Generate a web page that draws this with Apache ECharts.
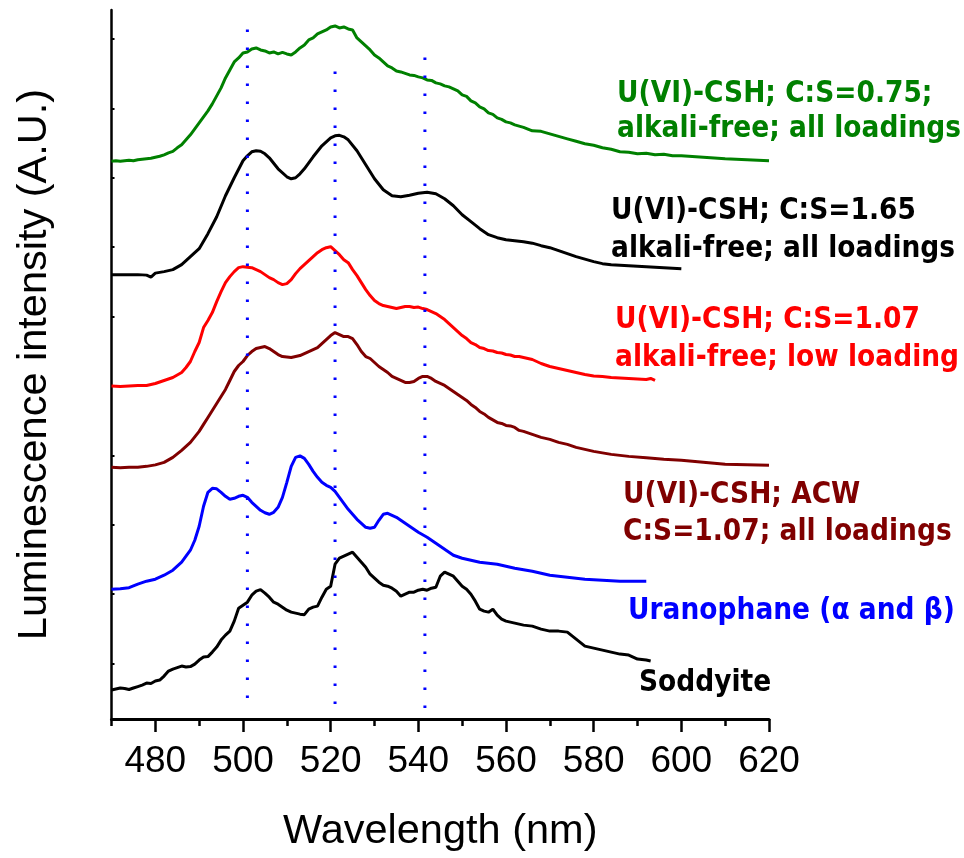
<!DOCTYPE html>
<html>
<head>
<meta charset="utf-8">
<title>U(VI) luminescence spectra</title>
<script src="https://cdn.jsdelivr.net/npm/echarts@6/dist/echarts.min.js"></script>
<style>
  html, body { margin: 0; padding: 0; background: #fff; }
  #chart { width: 964px; height: 858px; }
</style>
</head>
<body>
<div id="chart"></div>
<script>
// Emission spectra, stacked with vertical offsets (arbitrary units), [wavelength nm, intensity]
const cshCS075 = [
  [470,503.5],[471,504],[472,503.5],[473,504],[474,504.5],[475,504],[476,505],[477,505.5],[478,506],[479,506.5],
  [480,507.5],[481,508.5],[482,510],[483,512],[484,513.5],[485,517],[486,520],[487,525],[488,530],[489,536],
  [490,542],[491,548],[492,554],[493,561],[494,569],[495,577],[496,587],[497,595],[498,603],[499,607],
  [500,612],[501,613],[502,616],[503,617],[504,615],[505,614],[506,612],[507,613],[508,611],[509,612.5],
  [510,611],[511,610],[512,613],[513,617],[514,620],[515,625],[516,627],[517,631],[518,633],[519,635],
  [520,638],[521,639],[522,637],[523,638],[524,636],[525,635],[526,627],[527,623],[528,619],[529,615],
  [530,610],[531,607],[532,603],[533,599],[534,597],[535,594],[536,593],[537,591.5],[538,590],[539,589.5],
  [540,588],[541,587],[542,585],[543,584.5],[544,582],[545,581],[546,579],[547,578],[548,576],[549,574],
  [550,570],[551,568.5],[552,564],[553,562],[554,558],[555,556],[556,552],[557,550.5],[558,547],[559,545.5],
  [560,543],[561,542],[562,540],[564,537.5],[566,534],[568,533.5],[570,531],[572,528.5],[574,526],[576,523.5],
  [578,521],[580,519.5],[582,517],[584,515.5],[586,513],[588,512.5],[590,511],[592,511.5],[594,510],[596,510.5],
  [598,509],[600,509],[605,507.5],[610,506],[615,505],[620,504]
];

const cshCS165 = [
  [470,390],[472,390],[474,390],[476,390],[478,389.5],[479,387.5],[480,391.5],[482,393],[484,395],[486,400],
  [488,408],[490,416],[492,431],[494,448],[496,469],[498,487],[500,504],[501,509],[502,513],[503,514],
  [504,513.5],[505,511],[506,507],[508,496],[510,488],[511,486],[512,487],[513,491],[514,496],[516,508],
  [518,519],[520,527],[521,529],[522,529.5],[523,528],[524,525],[526,514],[528,500],[530,486],[532,475],
  [534,469],[536,468],[538,469.5],[540,471.5],[542,472.5],[544,471],[546,466],[548,459],[550,450],[552,443],
  [554,436],[556,430],[558,427],[560,425],[562,424],[564,423],[566,421.5],[568,419],[570,417],[572,414],
  [574,411],[576,408],[578,405.5],[580,403],[582,401],[584,400],[588,399],[592,398],[596,397],[600,396]
];

const cshCS107Low = [
  [470,278.5],[472,278],[474,278.5],[476,279],[478,279],[480,281],[482,284],[484,287],[486,292],[487,297],
  [488,303],[489,313],[490,322],[491,337],[492,344],[493,352],[494,363],[495,373],[496,382],[497,388],
  [498,393],[499,397],[500,398],[501,397.5],[502,397],[503,395],[504,393],[505,390],[506,387],[507,385],
  [508,382],[509,380],[510,381],[511,385],[512,391],[513,396],[514,400],[515,404],[516,408],[517,412],
  [518,415],[519,417],[520,418],[521,414],[522,410],[523,405],[524,402],[525,395],[526,389],[527,382],
  [528,375],[529,369],[530,364],[531,361],[532,359],[533,358],[534,357],[535,356],[536,357],[537,358],
  [538,358],[539,357],[540,357.5],[541,356],[542,355],[543,353],[544,351],[545,348],[546,345],[547,341],
  [548,337],[549,333],[550,329],[551,326],[552,322],[553,320],[554,317],[555,316],[556,314],[557,313.5],
  [558,312],[559,311.5],[560,310],[561,309.5],[562,308],[563,308],[564,307],[565,306],[566,305],[567,303],
  [568,301],[570,298],[572,296],[574,294],[576,292],[578,290],[580,288.5],[582,288],[584,287],
  [586,286.5],[588,286],[590,285.5],[592,285],[593,286],[594,284]
];

const cshACW = [
  [470,197],[472,196.5],[474,197],[476,197],[478,198],[480,199.5],[482,202],[484,207],[486,214],[488,222],
  [490,233],[491,240],[492,247],[493,254],[494,261],[495,268],[496,275],[497,284],[498,293],[499,299],
  [500,303],[501,309],[502,313],[503,316],[504,317],[505,318],[506,316],[507,313],[508,310],[509,308],
  [510,307.5],[511,307],[512,308],[513,309],[514,311],[515,313],[516,315],[517,317],[518,321],[519,325],
  [520,329],[521,332],[522,330],[523,328],[524,328],[525,326],[526,320],[527,313],[528,308],[529,306],
  [530,302],[531,298],[532,295],[533,292],[534,288],[535,286],[536,284],[537,282],[538,282],[539,283],
  [540,286],[541,288],[542,288],[543,286],[544,283],[545,281],[546,279],[547,276],[548,273],[549,270],
  [550,267],[551,264],[552,260],[553,257],[554,253],[555,250.5],[556,247],[557,244.5],[558,242],[559,241],
  [560,239],[561,238.5],[562,237],[563,234],[564,233],[566,230],[568,227],[570,225],[572,222],[574,220],
  [576,217],[578,215],[580,213],[584,210],[588,208],[592,206.5],[596,205],[600,204],[605,202],[610,200],
  [615,199.5],[620,199]
];

const uranophane = [
  [470,75],[472,75.5],[474,76.5],[476,80],[478,83],[480,85],[482,89],[484,94],[486,102],[488,114],
  [489,124],[490,138],[491,158],[492,172],[493,176],[494,175.5],[495,172],[496,168],[497,165],[498,166],
  [499,168],[500,169],[501,167],[502,162],[503,158],[504,154],[505,151.5],[506,150],[507,152],[508,157],
  [509,167],[510,182],[511,198],[512,207],[513,208.5],[514,206],[515,200],[516,193],[517,187],[518,182],
  [519,179],[520,177],[521,173],[522,167],[523,161],[524,155],[525,150],[526,145],[527,141],[528,137],
  [529,136],[530,137],[531,144],[532,150],[533,151],[534,149],[535,147],[536,144],[538,138],[540,132],
  [542,127],[544,121],[546,115],[548,109],[550,106],[552,104],[554,102],[556,101],[558,100],[562,96],
  [566,93],[570,89],[574,87],[578,85],[582,84],[586,83],[592,83]
];

const soddyite = [
  [470,-26],[471,-25],[472,-24],[473,-24.5],[474,-25.5],[475,-24],[476,-22.5],[477,-21],[478,-19],[479,-19.5],
  [480,-17],[481,-16],[482,-12],[483,-7],[484,-5],[485,-3.5],[486,-2],[487,-3],[488,-2.5],[489,0],
  [490,4],[491,7],[492,7.5],[493,12],[494,17],[495,24],[496,29],[497,33],[498,43],[499,56],
  [500,59],[501,62],[502,69],[503,73],[504,74.5],[505,71],[506,67],[507,62],[508,60],[509,57],
  [510,54],[511,52],[512,51],[513,50],[514,49.5],[515,55],[516,57],[517,58],[518,67],[519,75],
  [520,78],[521,100],[522,106],[523,108],[524,110],[525,112],[526,107],[527,102],[528,97],[529,90],
  [530,86],[531,82],[532,79],[533,78],[534,76],[535,73],[536,68],[537,70],[538,72],[539,72],
  [540,74],[541,75],[542,74],[543,76],[544,77],[545,88],[546,92],[547,90],[548,88],[549,83],
  [550,78],[551,75],[552,70],[553,63],[554,55],[555,53],[556,52],[557,55],[558,49],[559,45],
  [560,43],[561,42],[562,41],[564,39],[566,38],[568,35],[570,33],[572,33],[574,32],[576,25],
  [578,18],[580,16],[582,14],[584,12],[586,10],[588,9],[590,5],[592,4],[593,3]
];

// Reference wavelengths (dotted guides) and their vertical extent
const guideNm = [501, 521, 541.5];
const guideTop = [650, 608, 622];
const guideBottom = [-34, -40, -44];

// Axis ticks
const xLabels = [480, 500, 520, 540, 560, 580, 600, 620];
const yTickStart = 0.5;
const yTickStep = 69.5;
const yTickCount = 10;
const yTicks = Array.from({ length: yTickCount }, (_, k) => yTickStart + k * yTickStep);

const spectra = [
  { name: 'U(VI)-CSH; C:S=0.75', data: cshCS075, color: '#008000' },
  { name: 'U(VI)-CSH; C:S=1.65', data: cshCS165, color: '#000000' },
  { name: 'U(VI)-CSH; C:S=1.07 low', data: cshCS107Low, color: '#ff0000' },
  { name: 'U(VI)-CSH; ACW', data: cshACW, color: '#800000' },
  { name: 'Uranophane', data: uranophane, color: '#0000ff' },
  { name: 'Soddyite', data: soddyite, color: '#000000' }
];

// Curve annotations: lines of text, colour, left edge and baseline of each line
const annotations = [
  { lines: ['U(VI)-CSH; C:S=0.75;', 'alkali-free; all loadings'], color: '#008000', x: 617, y: [102, 137] },
  { lines: ['U(VI)-CSH; C:S=1.65', 'alkali-free; all loadings'], color: '#000000', x: 611, y: [219, 257] },
  { lines: ['U(VI)-CSH; C:S=1.07', 'alkali-free; low loading'], color: '#ff0000', x: 615, y: [328, 366] },
  { lines: ['U(VI)-CSH; ACW', 'C:S=1.07; all loadings'], color: '#800000', x: 623, y: [503, 540] },
  { lines: ['Uranophane (\u03b1 and \u03b2)'], color: '#0000ff', x: 628, y: [619] },
  { lines: ['Soddyite'], color: '#000000', x: 639, y: [691] }
];

const annoFont = 26.5;
const annoStretch = 1.12;
const annoDescent = 7; // bottom of the text box sits below the baseline
const graphics = [];
annotations.forEach(a => {
  a.lines.forEach((t, i) => {
    graphics.push({
      type: 'text',
      x: a.x,
      y: a.y[i] + annoDescent,
      scaleY: annoStretch,
      style: {
        text: t,
        fill: a.color,
        font: 'bold ' + annoFont + 'px "DejaVu Sans", sans-serif',
        verticalAlign: 'bottom'
      },
      z: 10
    });
  });
});

const series = spectra.map(s => ({
  name: s.name,
  type: 'line',
  data: s.data,
  showSymbol: false,
  symbol: 'none',
  lineStyle: { color: s.color, width: 3 },
  itemStyle: { color: s.color },
  z: 3,
  animation: false
}));

guideNm.forEach((nm, i) => {
  series.push({
    type: 'line',
    data: [[nm, guideBottom[i]], [nm, guideTop[i]]],
    showSymbol: false,
    symbol: 'none',
    lineStyle: { color: '#0000ff', width: 3, type: [2.5, 15.5] },
    z: 5,
    silent: true,
    animation: false
  });
});

const chart = echarts.init(document.getElementById('chart'), null, { renderer: 'canvas' });
chart.setOption({
  backgroundColor: '#ffffff',
  animation: false,
  grid: { left: 111.5, right: 195, top: 10, bottom: 138, containLabel: false },
  xAxis: [
    {
      type: 'value',
      min: 470, max: 620, interval: 10,
      name: 'Wavelength (nm)',
      nameLocation: 'middle',
      nameGap: 92,
      nameTextStyle: { fontFamily: 'Liberation Sans', fontSize: 41.5, color: '#000' },
      axisLine: { show: true, onZero: false, lineStyle: { color: '#000', width: 3 } },
      axisTick: { show: true, length: 7, lineStyle: { color: '#000', width: 2.5 } },
      axisLabel: {
        formatter: v => (v % 20 === 0 ? String(v) : ''),
        margin: 24,
        fontFamily: 'Liberation Sans', fontSize: 37, color: '#000'
      },
      splitLine: { show: false }
    },
    {
      type: 'value',
      min: 470, max: 620,
      position: 'bottom',
      axisLine: { show: false, onZero: false },
      axisTick: { show: true, customValues: xLabels, length: 13, lineStyle: { color: '#000', width: 2.5 } },
      axisLabel: { show: false },
      splitLine: { show: false }
    }
  ],
  yAxis: {
    type: 'value',
    min: -55, max: 655,
    name: 'Luminescence intensity (A.U.)',
    nameLocation: 'middle',
    nameGap: 56,
    nameTextStyle: { fontFamily: 'Liberation Sans', fontSize: 41.5, color: '#000' },
    axisLine: { show: true, onZero: false, lineStyle: { color: '#000', width: 2.5 } },
    axisTick: { show: true, inside: true, customValues: yTicks, length: 3, lineStyle: { color: '#000', width: 2 } },
    axisLabel: { show: false },
    splitLine: { show: false }
  },
  series: series,
  graphic: graphics
});
</script>
</body>
</html>
